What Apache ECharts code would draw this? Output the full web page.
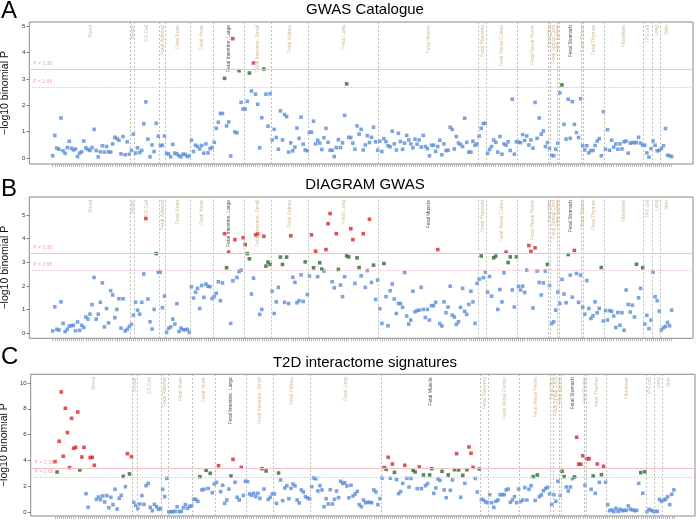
<!DOCTYPE html>
<html><head><meta charset="utf-8">
<script src="https://cdn.jsdelivr.net/npm/echarts@6/dist/echarts.min.js"></script>
<style>html,body{margin:0;padding:0;background:#fff}#c{width:700px;height:521px}</style>
</head><body><div id="c"></div>
<script>
// ---------- DATA ----------
const tissues = ['Blood','Breast','ES Cell','Fetal Adrenal','Fetal Brain','Fetal Heart','Fetal Intestine, Large','Fetal Intestine, Small','Fetal Kidney','Fetal Lung','Fetal Muscle','Fetal Placenta','Fetal Renal Cortex','Fetal Renal Pelvis','Fetal Skin','Fetal Spinal Cord','Fetal Spleen','Fetal Stomach','Fetal Testes','Fetal Thymus','Fibroblast','iPS cell','Lung','Skin'];
const groupSizes = [38,2,12,3,12,11,15,13,18,34,48,4,15,15,1,3,1,11,1,10,19,4,4,6];

const gwasCatalogue = [
 0.09,0.86,0.38,0.34,1.52,0.28,0.18,0.40,0.64,0.38,0.31,0.35,0.06,0.19,0.24,0.65,0.39,0.33,0.29,0.40,1.09,0.29,0.05,0.24,0.47,0.23,0.44,0.24,0.23,0.54,0.79,0.74,0.68,0.16,0.82,0.13,0.62,0.15,
 0.30,0.91,
 0.19,0.39,0.21,0.29,1.30,2.13,0.72,0.05,0.50,0.25,1.32,0.83,
 0.47,0.49,0.84,
 0.18,0.16,0.05,0.52,0.19,0.16,0.09,0.05,0.15,0.14,0.06,0.09,
 0.68,0.25,0.49,0.44,0.35,0.48,0.19,0.54,0.20,0.36,0.40,
 0.60,1.13,1.36,1.69,1.69,3.02,1.22,1.37,0.08,4.52,0.99,0.96,3.31,2.11,1.86,
 1.86,2.15,3.22,2.54,3.60,2.42,2.04,0.39,1.53,3.37,2.42,1.21,2.44,
 0.69,1.09,0.78,0.34,1.79,0.69,1.65,1.57,0.23,0.58,0.28,0.42,1.14,0.75,1.55,0.53,0.31,0.28,
 0.98,0.98,1.40,0.54,0.68,0.57,0.33,0.77,1.13,0.60,0.30,0.30,0.06,0.40,0.70,0.40,0.58,1.62,2.81,0.79,0.78,0.57,0.34,1.22,0.91,1.09,0.31,0.50,0.85,0.59,0.79,1.17,0.62,0.30,
 0.64,0.25,0.74,0.63,0.47,0.43,1.02,0.54,0.31,0.94,0.63,0.34,0.57,0.86,0.69,0.54,0.39,0.72,0.53,0.69,0.42,0.86,0.44,0.36,0.09,0.49,0.49,0.26,0.44,0.68,0.13,0.54,0.29,0.30,1.17,1.09,0.35,0.82,0.57,0.52,0.44,1.51,0.60,0.23,0.23,0.64,0.49,0.54,
 0.84,1.13,1.31,1.32,
 0.18,0.33,0.44,0.69,0.60,0.23,0.82,0.15,0.54,0.49,0.62,0.29,2.23,0.15,0.62,
 0.60,0.59,0.89,0.67,0.84,0.50,0.69,0.38,2.11,0.75,1.52,0.91,1.03,0.44,0.59,
 0.38,
 0.11,0.09,0.34,
 0.57,
 2.47,2.77,1.28,0.72,2.23,0.75,2.14,1.28,0.97,0.78,2.25,
 0.47,
 0.31,0.47,0.20,0.29,0.29,0.48,0.65,0.74,0.09,1.76,
 0.34,1.08,0.30,0.68,0.42,0.54,0.34,0.54,0.35,0.62,0.65,0.19,0.57,0.59,0.59,0.59,0.79,0.57,0.49,
 0.49,0.20,0.04,0.36,
 0.65,0.49,0.28,0.29,
 0.36,0.47,1.12,0.11,0.09,0.06
];

const diagramGwas = [
 0.10,1.12,0.17,0.14,1.33,0.42,0.07,0.17,0.31,0.32,0.34,0.11,0.48,0.13,0.34,0.25,0.69,0.60,0.81,1.21,2.36,0.60,0.81,1.31,2.13,0.27,1.05,0.44,1.80,1.62,0.66,1.01,1.46,0.22,1.46,0.10,0.17,0.29,
 0.38,0.77,
 1.32,0.98,0.81,1.31,2.51,4.85,1.45,0.49,0.18,1.01,3.37,2.58,
 2.58,1.08,1.57,
 0.04,0.21,0.27,0.60,0.39,1.25,0.08,0.22,0.15,0.15,0.17,0.04,
 1.97,1.49,1.74,1.90,1.05,2.02,1.52,2.08,1.99,1.97,1.47,
 1.55,1.69,2.18,1.38,2.13,4.21,2.77,3.43,0.42,2.22,3.96,2.36,2.61,2.67,4.04,
 3.75,3.37,3.15,1.66,2.33,4.16,4.21,0.80,1.01,4.10,2.84,3.01,2.91,
 1.78,0.84,1.33,1.94,3.22,2.91,1.31,3.22,1.26,4.12,2.37,2.15,1.29,1.38,2.47,1.35,3.02,1.64,
 2.42,4.16,2.77,3.47,2.39,2.98,2.71,2.63,3.54,4.63,5.06,2.18,1.92,4.21,2.70,2.04,1.55,2.39,3.27,3.23,4.42,3.96,2.11,3.19,2.78,2.43,4.21,1.94,2.65,4.82,2.15,2.88,1.43,2.25,
 1.04,0.42,2.95,1.55,0.32,1.80,2.08,1.45,0.84,1.26,1.26,1.10,2.57,0.73,0.39,0.56,1.78,0.91,0.96,0.98,1.94,1.01,0.67,1.01,0.56,1.17,1.17,1.31,3.54,0.41,0.31,1.33,0.87,1.11,1.99,0.77,0.69,0.38,0.49,1.10,1.90,0.93,0.80,1.22,1.78,1.33,0.42,2.11,
 2.29,3.27,2.35,2.58,
 1.74,2.40,1.57,3.19,3.26,1.01,1.85,1.33,2.56,3.43,2.99,3.23,1.83,1.11,3.23,
 1.99,1.83,1.99,1.73,2.67,3.71,3.46,1.07,3.61,2.63,2.15,1.62,2.13,2.63,2.91,
 2.02,
 0.41,0.49,0.98,
 1.74,
 1.26,2.28,1.66,1.29,3.33,2.46,1.53,3.50,2.53,1.31,2.46,
 1.11,
 0.81,2.23,1.05,0.63,0.74,1.33,0.87,1.05,2.78,0.52,
 0.96,0.56,0.96,0.93,0.73,0.25,0.88,0.34,0.87,0.13,1.83,1.22,0.90,1.19,0.69,2.92,1.50,1.90,2.77,
 0.39,0.76,0.20,0.56,
 2.58,1.55,1.38,0.94,
 0.14,0.24,0.29,0.46,0.32,0.98
];

const t2dInteractome = [
 3.90,3.10,5.48,9.30,4.32,8.04,6.15,3.44,7.26,4.94,5.01,7.75,3.26,4.26,5.01,1.42,0.36,4.22,4.24,3.62,0.98,1.16,0.96,1.24,0.78,1.27,0.33,1.14,0.57,1.76,0.23,1.06,1.29,2.76,1.96,4.52,2.95,4.29,
 0.75,0.52,
 0.28,0.62,1.27,0.59,2.04,2.22,0.36,0.10,0.59,0.41,0.21,0.28,
 1.76,1.19,2.61,
 0.02,0.02,0.02,0.05,0.41,0.03,0.05,0.34,0.57,0.28,0.44,0.47,
 0.98,0.98,0.83,2.74,1.71,1.76,3.23,1.83,3.00,1.50,2.17,
 2.30,3.59,1.58,2.07,0.67,0.93,1.78,2.79,4.08,2.30,1.14,0.93,3.46,1.29,2.38,
 2.35,1.40,1.29,1.45,1.19,1.45,1.06,3.36,1.78,3.18,0.98,1.14,1.40,
 1.40,0.67,3.02,2.48,0.88,1.86,2.04,1.03,1.83,2.17,2.02,0.93,0.70,1.71,1.55,1.19,1.09,1.01,
 1.96,2.64,2.58,1.63,2.04,1.71,0.41,1.03,0.62,1.73,0.62,0.98,1.63,1.11,2.38,2.22,2.27,2.02,1.10,2.07,1.24,1.40,1.60,0.57,0.41,0.93,0.72,0.75,0.75,0.72,1.71,1.55,0.57,1.03,
 2.62,3.44,3.31,4.24,2.61,3.72,3.07,2.51,1.42,1.58,2.22,3.62,2.61,1.94,2.60,3.23,3.10,1.81,3.49,1.81,2.87,2.04,2.20,2.87,3.36,1.45,1.86,2.56,2.45,3.15,1.71,1.11,2.87,1.68,2.48,3.28,4.52,3.26,1.14,2.84,2.22,3.28,5.04,4.55,3.46,2.60,1.55,3.33,
 0.98,0.93,0.78,0.72,
 1.34,0.72,0.36,0.83,0.93,1.34,1.34,1.34,1.71,1.78,0.75,0.93,1.19,0.72,1.78,
 0.80,0.93,1.89,0.93,1.76,2.04,2.74,0.90,2.87,1.19,1.32,1.65,1.83,1.91,1.40,
 0.59,
 1.34,0.83,2.38,
 1.29,
 3.16,2.74,1.94,1.63,1.94,2.58,2.72,5.79,3.70,3.70,4.36,
 2.07,
 4.13,4.13,1.76,2.79,1.45,3.72,2.30,2.89,3.54,2.30,
 0.57,0.10,0.16,0.03,0.28,0.05,0.21,0.10,0.13,0.13,0.47,0.21,0.16,0.10,0.13,2.22,3.05,1.45,3.12,
 0.03,0.21,0.13,0.05,
 0.05,0.05,0.98,0.83,
 0.93,0.98,1.19,0.57,1.37,1.71
];

const thresholds = [3.38, 2.68];
const thresholdLabels = ['P = 3.38', 'P = 2.68'];
const panelTitles = ['GWAS Catalogue', 'DIAGRAM GWAS', 'T2D interactome signatures'];
const panelLetters = ['A', 'B', 'C'];
const yTickValues = [[0,1,2,3,4,5], [0,1,2,3,4,5], [0,2,4,6,8,10]];
const highlightedTissues = [
  ['Fetal Intestine, Large', 'Fetal Stomach'],
  ['Fetal Intestine, Large', 'Fetal Muscle', 'Fetal Stomach'],
  ['Fetal Intestine, Large', 'Fetal Muscle', 'Fetal Stomach']
];
const yAxisName = '\u2212log10 binomial P';

// ---------- LAYOUT / STYLE ----------
const panelData = [gwasCatalogue, diagramGwas, t2dInteractome];
const layout = [
  {top:22,    bottom:164,   left:29.3, right:693, xMin:-11.3,  xMax:309.3, yMin:-0.22, yMax:5.15,  titleY:2.5, letterY:-0.5},
  {top:197,   bottom:338.3, left:29.3, right:693, xMin:-11.3,  xMax:309.3, yMin:-0.21, yMax:5.76,  titleY:177, letterY:177},
  {top:374.3, bottom:516,   left:30.7, right:695, xMin:-11.74, xMax:309.2, yMin:-0.31, yMax:10.67, titleY:355, letterY:345}
];
const FONT = 'Liberation Sans, Arial, Helvetica, sans-serif';
const C_RED = '#d6282c', C_GREEN = '#2e6b34', C_BLUE = '#5b8fd8';
const C_TAN = '#c9ab7c';

// group boundaries & centres
const starts = [];
let acc = 0;
groupSizes.forEach(s => { starts.push(acc); acc += s; });
const boundaries = starts.slice(1).map(s => s - 0.5);
const centres = starts.map((s, k) => s + (groupSizes[k] - 1) / 2);

function colorOf(v) { return v > thresholds[0] ? C_RED : (v > thresholds[1] ? C_GREEN : C_BLUE); }

const grids = [], xAxes = [], yAxes = [], series = [], graphics = [];
layout.forEach((L, p) => {
  const vals = panelData[p];
  grids.push({left: L.left, top: L.top, width: L.right - L.left, height: L.bottom - L.top,
    containLabel: false, outerBoundsMode: 'none',
    show: true, borderColor: '#8a8a8a', borderWidth: 1, backgroundColor: 'transparent'});
  xAxes.push({type: 'value', gridIndex: p, min: L.xMin, max: L.xMax, position: 'bottom',
    axisLine: {show: false, onZero: false}, splitLine: {show: false},
    axisTick: {show: true, length: 3, lineStyle: {color: '#9a9a9a', width: 0.7}, customValues: vals.map((v, i) => i)},
    axisLabel: {show: false}});
  yAxes.push({type: 'value', gridIndex: p, min: L.yMin, max: L.yMax, position: 'left',
    name: yAxisName, nameLocation: 'middle', nameGap: 9.5,
    nameTextStyle: {fontSize: 10.5, color: '#111', fontFamily: FONT},
    axisLine: {show: false, onZero: false}, splitLine: {show: false},
    axisTick: {show: true, length: 3, lineStyle: {color: '#555', width: 0.7}, customValues: yTickValues[p]},
    axisLabel: {show: true, fontSize: 6, color: '#333', margin: 4, fontFamily: FONT, customValues: yTickValues[p]}});

  const markData = boundaries.map(b => ({xAxis: b, lineStyle: {type: [2, 2], color: '#b0b0b0', width: 0.8}, label: {show: false}}));
  thresholds.forEach((t, k) => markData.push({
    yAxis: t,
    lineStyle: {type: k === 0 ? 'solid' : [1.5, 1.5], color: k === 0 ? '#f0c2ca' : '#f2b8c4', width: 1},
    label: {show: true, formatter: thresholdLabels[k], position: 'insideStartTop', color: '#eea8b6', fontSize: 5, fontFamily: FONT, distance: [4, 3]}
  }));

  series.push({type: 'scatter', xAxisIndex: p, yAxisIndex: p, clip: false, silent: true,
    symbol: 'rect', symbolSize: 3.6,
    data: vals.map((v, i) => ({value: [i, v], itemStyle: {color: colorOf(v)}})),
    markLine: {silent: true, symbol: ['none', 'none'], data: markData, animation: false}
  });

  series.push({type: 'scatter', xAxisIndex: p, yAxisIndex: p, clip: false, silent: true,
    symbolSize: 0,
    data: tissues.map((t, k) => ({value: [centres[k], L.yMax], name: t,
      label: {color: highlightedTissues[p].includes(t) ? '#1a1a1a' : C_TAN}})),
    label: {show: true, formatter: '{b}', position: 'bottom', distance: 3, rotate: 90,
      align: 'right', verticalAlign: 'middle', fontSize: 5, fontFamily: FONT}
  });

  graphics.push({type: 'text', style: {text: panelTitles[p], x: 365, y: L.titleY,
    textAlign: 'center', textVerticalAlign: 'top', font: '15px ' + FONT, fill: '#000'}});
  graphics.push({type: 'text', style: {text: panelLetters[p], x: 1, y: L.letterY,
    textAlign: 'left', textVerticalAlign: 'top', font: '24px ' + FONT, fill: '#000'}});
});

const chart = echarts.init(document.getElementById('c'), null, {renderer: 'canvas'});
chart.setOption({
  animation: false,
  backgroundColor: '#fff',
  textStyle: {fontFamily: FONT},
  grid: grids, xAxis: xAxes, yAxis: yAxes, series: series,
  graphic: graphics
});
</script></body></html>
